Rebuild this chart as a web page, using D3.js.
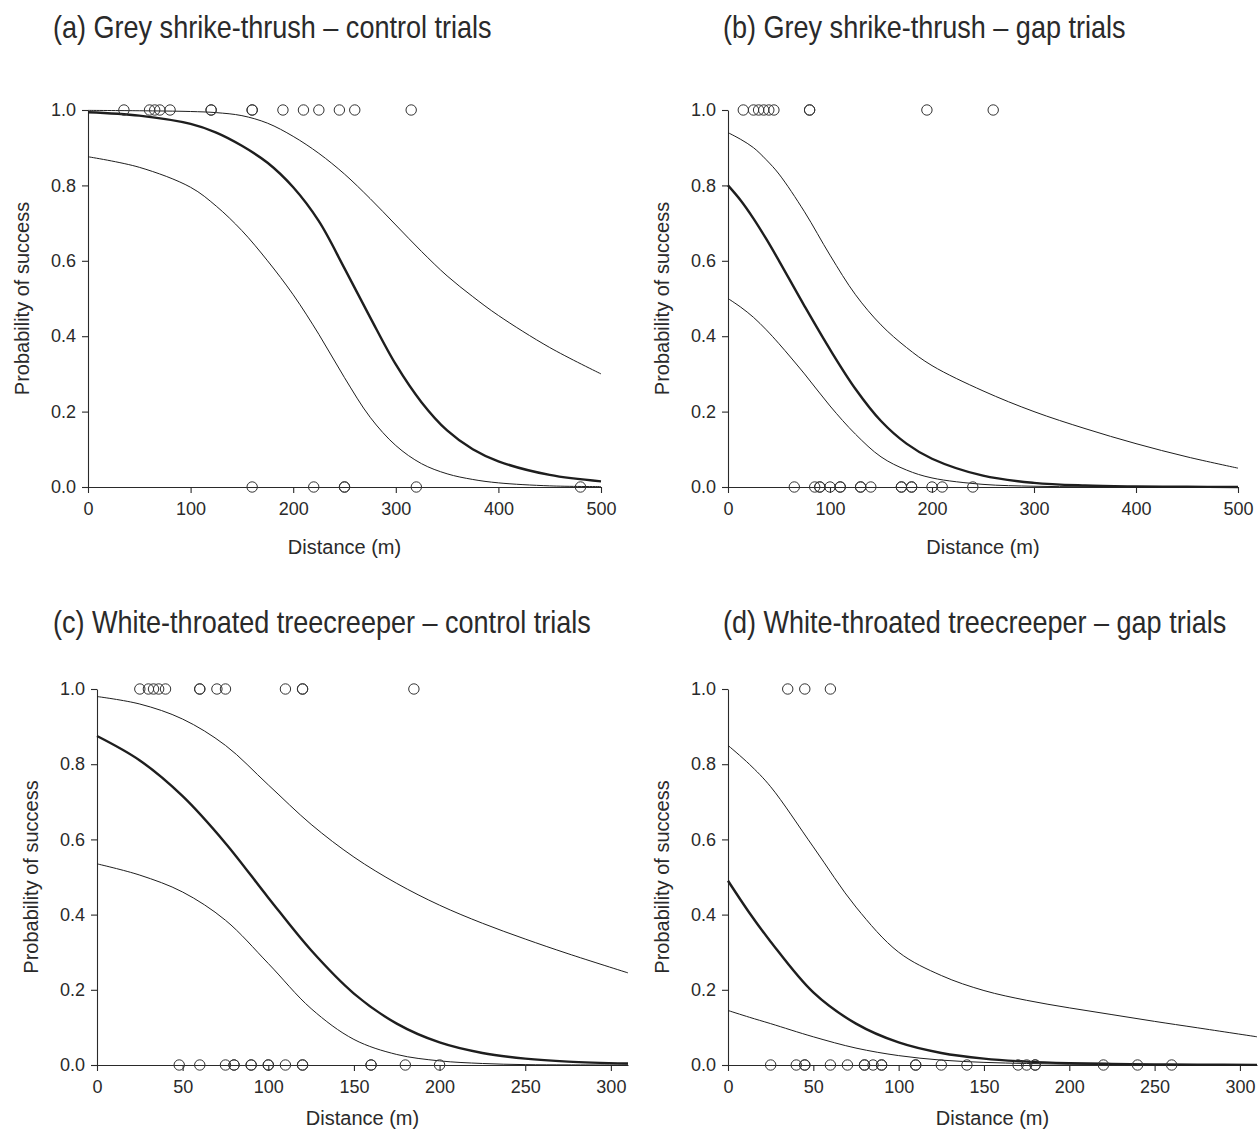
<!DOCTYPE html>
<html><head><meta charset="utf-8">
<script src="https://cdn.jsdelivr.net/npm/d3@7"></script>
<style>body{margin:0;background:#fff}svg{display:block}</style>
</head><body>
<script>
// ---------- data ----------
const titles = [
  "(a) Grey shrike-thrush \u2013 control trials",
  "(b) Grey shrike-thrush \u2013 gap trials",
  "(c) White-throated treecreeper \u2013 control trials",
  "(d) White-throated treecreeper \u2013 gap trials"
];
const yTicks = [0, 0.2, 0.4, 0.6, 0.8, 1.0];
const xTicksShrike = [0, 100, 200, 300, 400, 500];
const xTicksCreeper = [0, 50, 100, 150, 200, 250, 300];

// (a) shrike-thrush control
const aSuccess = [35, 60, 65, 70, 80, 120, 120, 160, 160, 190, 210, 225, 245, 260, 315];
const aFail = [160, 220, 250, 250, 320, 480];
const aX = [0, 50, 100, 125, 150, 175, 200, 225, 250, 275, 300, 325, 350, 375, 400, 450, 500];
const aMean = [0.994, 0.985, 0.963, 0.94, 0.905, 0.86, 0.795, 0.705, 0.58, 0.45, 0.325, 0.225, 0.15, 0.10, 0.068, 0.032, 0.015];
const aUpper = [0.999, 0.998, 0.996, 0.993, 0.985, 0.965, 0.93, 0.885, 0.83, 0.765, 0.695, 0.625, 0.56, 0.505, 0.455, 0.37, 0.30];
const aLower = [0.876, 0.848, 0.795, 0.745, 0.68, 0.60, 0.51, 0.405, 0.29, 0.185, 0.11, 0.062, 0.035, 0.02, 0.011, 0.003, 0.001];

// (b) shrike-thrush gap
const bSuccess = [15, 25, 30, 35, 40, 45, 80, 80, 195, 260];
const bFail = [65, 85, 90, 90, 100, 110, 110, 130, 130, 140, 170, 170, 180, 180, 200, 210, 240];
const bX = [0, 12.5, 25, 37.5, 50, 75, 100, 125, 150, 175, 200, 250, 300, 350, 400, 450, 500];
const bMean = [0.80, 0.76, 0.712, 0.658, 0.60, 0.48, 0.365, 0.26, 0.175, 0.115, 0.075, 0.03, 0.011, 0.004, 0.0015, 0.0005, 0.0002];
const bUpper = [0.94, 0.922, 0.90, 0.868, 0.83, 0.73, 0.615, 0.51, 0.43, 0.37, 0.322, 0.255, 0.20, 0.155, 0.115, 0.08, 0.05];
const bLower = [0.50, 0.477, 0.45, 0.417, 0.38, 0.30, 0.215, 0.14, 0.08, 0.045, 0.024, 0.007, 0.002, 0.0005, 0.0002, 0.0001, 0];

// (c) treecreeper control
const cSuccess = [25, 30, 33, 36, 40, 60, 60, 70, 75, 110, 120, 120, 185];
const cFail = [48, 60, 75, 80, 80, 90, 90, 100, 100, 110, 120, 120, 160, 160, 180, 200];
const cX = [0, 25, 50, 75, 100, 125, 150, 175, 200, 225, 250, 275, 310];
const cMean = [0.875, 0.81, 0.715, 0.59, 0.445, 0.305, 0.19, 0.11, 0.06, 0.032, 0.017, 0.009, 0.004];
const cUpper = [0.98, 0.96, 0.92, 0.85, 0.745, 0.64, 0.553, 0.483, 0.425, 0.377, 0.335, 0.296, 0.245];
const cLower = [0.535, 0.505, 0.46, 0.385, 0.27, 0.15, 0.068, 0.028, 0.011, 0.004, 0.001, 0.0003, 0];

// (d) treecreeper gap
const dSuccess = [35, 45, 60];
const dFail = [25, 40, 45, 45, 60, 70, 80, 80, 85, 90, 90, 110, 110, 125, 140, 170, 175, 180, 180, 220, 240, 260];
const dX = [0, 12.5, 25, 50, 75, 100, 125, 150, 175, 200, 225, 250, 275, 310];
const dMean = [0.49, 0.405, 0.328, 0.193, 0.11, 0.06, 0.032, 0.017, 0.009, 0.005, 0.003, 0.0015, 0.0007, 0.0003];
const dUpper = [0.85, 0.80, 0.74, 0.58, 0.42, 0.30, 0.238, 0.198, 0.172, 0.152, 0.134, 0.116, 0.099, 0.075];
const dLower = [0.145, 0.127, 0.11, 0.075, 0.045, 0.025, 0.013, 0.007, 0.004, 0.002, 0.001, 0.0005, 0.0002, 0];

// ---------- layout ----------
const W = 1258, H = 1132;
const ink = "#2a2a2a";
const FONT = "'Liberation Sans', Arial, sans-serif";
const panels = [
  {title: titles[0], tx: 53, ty: 38, x0: 88, x1: 601, yTop: 110, yBot: 487, xmax: 500, ticks: xTicksShrike,
   succ: aSuccess, fail: aFail, series: [aX, aUpper, aLower, aMean], ylab: 22, xlabOff: 67},
  {title: titles[1], tx: 723, ty: 38, x0: 728, x1: 1238, yTop: 110, yBot: 487, xmax: 500, ticks: xTicksShrike,
   succ: bSuccess, fail: bFail, series: [bX, bUpper, bLower, bMean], ylab: 662, xlabOff: 67},
  {title: titles[2], tx: 53, ty: 633, x0: 97, x1: 628, yTop: 689, yBot: 1065, xmax: 310, ticks: xTicksCreeper,
   succ: cSuccess, fail: cFail, series: [cX, cUpper, cLower, cMean], ylab: 31, xlabOff: 60},
  {title: titles[3], tx: 723, ty: 633, x0: 728, x1: 1257, yTop: 689, yBot: 1065, xmax: 310, ticks: xTicksCreeper,
   succ: dSuccess, fail: dFail, series: [dX, dUpper, dLower, dMean], ylab: 662, xlabOff: 60}
];

const svg = d3.select("body").append("svg").attr("width", W).attr("height", H)
  .style("font-family", FONT);

panels.forEach(p => {
  const x = d3.scaleLinear().domain([0, p.xmax]).range([p.x0, p.x1]);
  const y = d3.scaleLinear().domain([0, 1]).range([p.yBot, p.yTop]);
  const g = svg.append("g");

  // title (condensed look)
  g.append("text").attr("transform", `translate(${p.tx},${p.ty}) scale(0.845,1)`)
    .attr("font-size", 32).attr("fill", ink).text(p.title);

  // axes
  const xa = g.append("g").attr("transform", `translate(0,${p.yBot})`)
    .call(d3.axisBottom(x).tickValues(p.ticks).tickSize(6).tickPadding(9).tickSizeOuter(0).tickFormat(d3.format("d")));
  const ya = g.append("g").attr("transform", `translate(${p.x0},0)`)
    .call(d3.axisLeft(y).tickValues(yTicks).tickSize(6).tickPadding(6).tickSizeOuter(0).tickFormat(d3.format(".1f")));
  [xa, ya].forEach(a => {
    a.select(".domain").attr("stroke", ink).attr("stroke-width", 1.1);
    a.selectAll(".tick line").attr("stroke", ink).attr("stroke-width", 1.1);
    a.selectAll(".tick text").attr("fill", ink).attr("font-size", 18).attr("font-family", FONT);
  });

  // axis titles
  g.append("text").attr("x", (p.x0 + p.x1) / 2).attr("y", p.yBot + p.xlabOff)
    .attr("text-anchor", "middle").attr("font-size", 20).attr("fill", ink).text("Distance (m)");
  g.append("text").attr("transform", `translate(${p.ylab},${(p.yTop + p.yBot) / 2}) rotate(-90)`)
    .attr("dy", "0.35em").attr("text-anchor", "middle").attr("font-size", 20).attr("fill", ink)
    .text("Probability of success");

  // curves: upper CI, lower CI (thin), fitted mean (thick)
  const line = d3.line().x(d => x(d[0])).y(d => y(Math.max(0, d[1]))).curve(d3.curveCatmullRom.alpha(0.5));
  const [xs, up, lo, mean] = p.series;
  [[up, 1], [lo, 1], [mean, 2.4]].forEach(([ys, w]) => {
    g.append("path").datum(xs.map((v, i) => [v, ys[i]]))
      .attr("d", line).attr("fill", "none").attr("stroke", "#1e1e1e").attr("stroke-width", w);
  });

  // observations
  const pts = p.succ.map(v => [v, 1]).concat(p.fail.map(v => [v, 0]));
  g.selectAll("circle.obs").data(pts).enter().append("circle").attr("class", "obs")
    .attr("cx", d => x(d[0])).attr("cy", d => y(d[1])).attr("r", 5.2)
    .attr("fill", "none").attr("stroke", "#333").attr("stroke-width", 1);
});
</script>
</body></html>
